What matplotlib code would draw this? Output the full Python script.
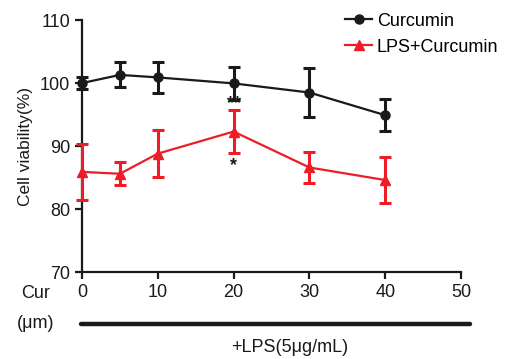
import matplotlib
matplotlib.use("Agg")
import matplotlib.pyplot as plt
from matplotlib.lines import Line2D

plt.rcParams['font.family'] = ['Liberation Sans', 'DejaVu Sans']

conc = [0, 5, 10, 20, 30, 40]
cur_mean = [100.0, 101.3, 100.9, 99.95, 98.5, 94.9]
cur_err = [1.0, 2.0, 2.4, 2.6, 3.9, 2.5]
lps_mean = [85.9, 85.6, 88.8, 92.3, 86.6, 84.6]
lps_err = [4.4, 1.8, 3.7, 3.4, 2.5, 3.6]
xticks = [0, 10, 20, 30, 40, 50]
yticks = [70, 80, 90, 100, 110]

black = '#1a1a1a'
red = '#ee1c25'

fig = plt.figure(figsize=(5.14, 3.59), dpi=100)
ax = fig.add_axes([0.1595, 0.2423, 0.7375, 0.7017])

for mean, err, col, mk in [(cur_mean, cur_err, black, 'o'), (lps_mean, lps_err, red, '^')]:
    cont = ax.errorbar(conc, mean, yerr=err, color=col, marker=mk, ms=6.5,
                       lw=1.6, elinewidth=2.2, capsize=4.5, capthick=2.2, zorder=3)
    for a in [cont[0], *cont[1], *cont[2]]:
        a.set_clip_on(False)

ax.text(20, 96.7, '**', ha='center', va='center', fontsize=13, color=black, fontweight='bold')
ax.text(20, 86.9, '*', ha='center', va='center', fontsize=13, color=black, fontweight='bold')

ax.set_xlim(0, 50)
ax.set_ylim(70, 110)
ax.set_xticks(xticks)
ax.set_yticks(yticks)
ax.spines['top'].set_visible(False)
ax.spines['right'].set_visible(False)
for s in ['left', 'bottom']:
    ax.spines[s].set_linewidth(1.6)
    ax.spines[s].set_color(black)
ax.tick_params(direction='out', length=5, width=1.6, labelsize=13, color=black, labelcolor=black)
ax.set_ylabel('Cell viability(%)', fontsize=12.5, color=black, labelpad=5)

handles = [Line2D([], [], color=black, marker='o', ms=6.5, lw=1.6),
           Line2D([], [], color=red, marker='^', ms=6.5, lw=1.6)]
ax.legend(handles, ['Curcumin', 'LPS+Curcumin'], loc='upper left',
          bbox_to_anchor=(0.64, 1.01), bbox_transform=fig.transFigure,
          frameon=False, fontsize=13, handlelength=1.5, handletextpad=0.25,
          labelspacing=0.5)

fig.text(21/514, 1 - 293/359, 'Cur', fontsize=13, ha='left', va='center', color=black)
fig.text(17/514, 1 - 323/359, '(\u03bcm)', fontsize=13, ha='left', va='center', color=black)
fig.add_artist(Line2D([81/514, 470/514], [1 - 324/359, 1 - 324/359], transform=fig.transFigure,
                      color=black, lw=3.2, solid_capstyle='round'))
fig.text(290/514, 1 - 348/359, '+LPS(5\u03bcg/mL)', fontsize=13, ha='center', va='center', color=black)

fig.savefig('out.png', dpi=100)
